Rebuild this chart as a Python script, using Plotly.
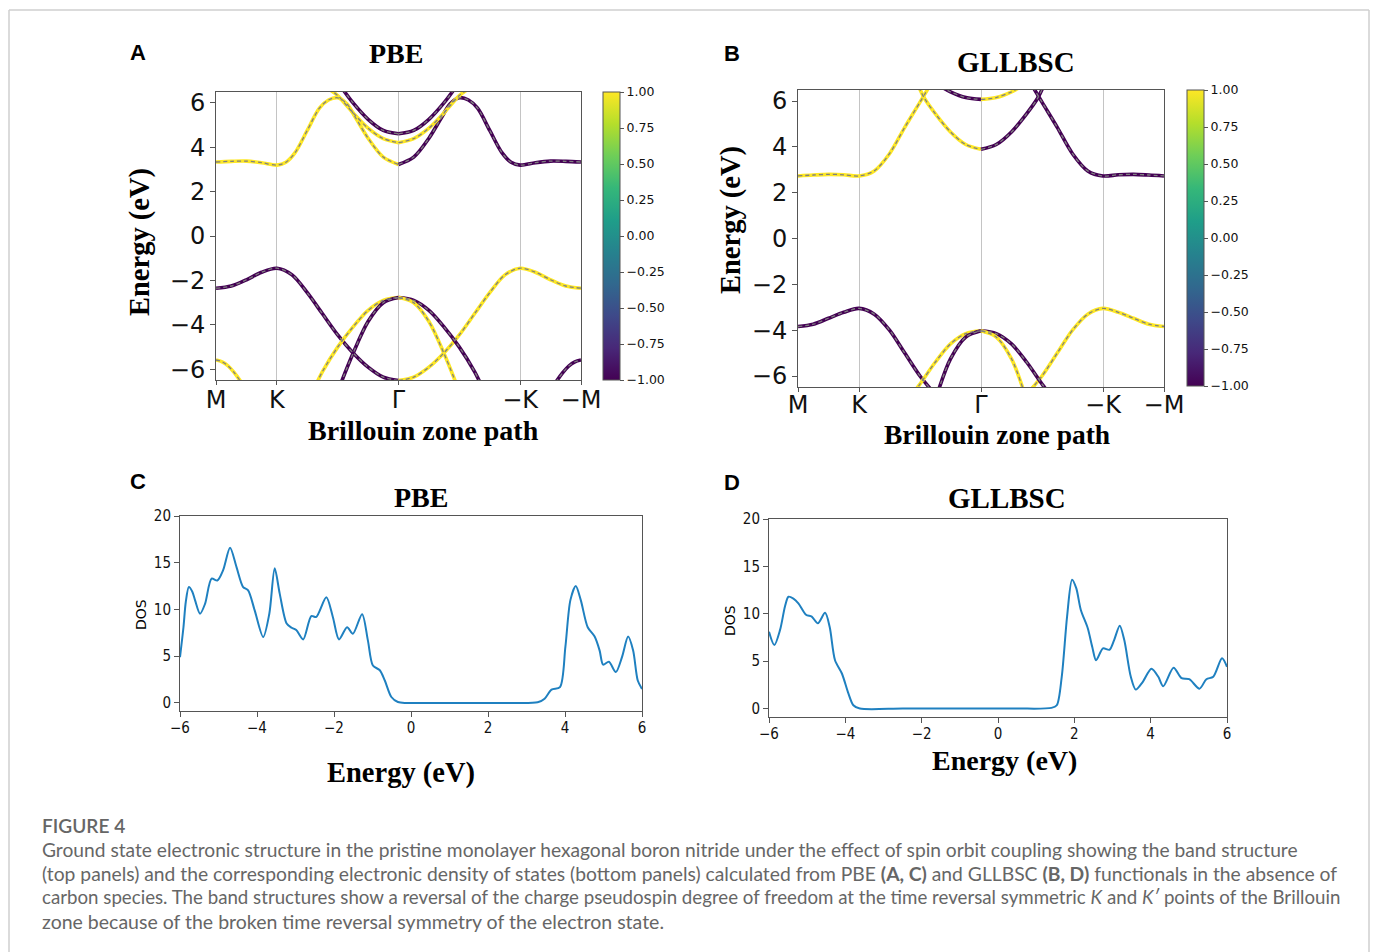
import plotly.graph_objects as go

W, H = 1375, 952


def X(px):
    return px / W


def Y(py):
    return 1 - py / H


# ---------------- data ----------------
PATH_TICK_POS = [0, 1, 3, 5, 6]
PATH_TICK_TEXT = ['M', 'K', 'Γ', '−K', '−M']
BAND_Y_TICKS = [-6, -4, -2, 0, 2, 4, 6]
BAND_Y_TEXT = ['−6', '−4', '−2', '0', '2', '4', '6']
CBAR_TICKS = [-1.0, -0.75, -0.5, -0.25, 0.0, 0.25, 0.5, 0.75, 1.0]
CBAR_TEXT = ['−1.00', '−0.75', '−0.50', '−0.25', '0.00', '0.25', '0.50', '0.75', '1.00']
DOS_X_TICKS = [-6, -4, -2, 0, 2, 4, 6]
DOS_X_TEXT = ['−6', '−4', '−2', '0', '2', '4', '6']
DOS_Y_TICKS = [0, 5, 10, 15, 20]

# PBE band structure (k in units along M-K-Γ-(-K)-(-M), energies in eV)
pbe_c1_k = [0, 0.25, 0.5, 0.75, 1.0, 1.15, 1.3, 1.5, 1.7, 1.85, 2.0, 2.15, 2.3, 2.5, 2.75, 3.0,
            3.25, 3.5, 3.7, 3.85, 4.0, 4.15, 4.3, 4.5, 4.7, 4.85, 5.0, 5.25, 5.5, 5.75, 6.0]
pbe_c1_e = [3.33, 3.36, 3.37, 3.30, 3.19, 3.32, 3.75, 4.75, 5.75, 6.12, 6.22, 5.95, 5.30, 4.40, 3.55, 3.22,
            3.55, 4.40, 5.30, 5.95, 6.22, 6.12, 5.75, 4.75, 3.75, 3.32, 3.19, 3.30, 3.37, 3.36, 3.33]
pbe_c2_k = [1.85, 2.0, 2.25, 2.5, 2.75, 3.0, 3.25, 3.5, 3.75, 4.0, 4.15]
pbe_c2_e = [6.62, 6.32, 5.55, 4.85, 4.38, 4.20, 4.38, 4.85, 5.55, 6.32, 6.62]
pbe_c3_k = [2.08, 2.25, 2.5, 2.75, 3.0, 3.25, 3.5, 3.75, 3.92]
pbe_c3_e = [6.62, 6.00, 5.25, 4.75, 4.60, 4.75, 5.25, 6.00, 6.62]
pbe_v1_k = [0, 0.25, 0.5, 0.75, 1.0, 1.25, 1.5, 1.75, 2.0, 2.25, 2.5, 2.75, 3.0,
            3.25, 3.5, 3.75, 4.0, 4.25, 4.5, 4.75, 5.0, 5.25, 5.5, 5.75, 6.0]
pbe_v1_e = [-2.35, -2.25, -1.97, -1.63, -1.45, -1.75, -2.55, -3.50, -4.45, -5.25, -5.90, -6.35, -6.50,
            -6.35, -5.90, -5.25, -4.45, -3.50, -2.55, -1.75, -1.45, -1.63, -1.97, -2.25, -2.35]
pbe_v2_k = [1.65, 1.75, 2.0, 2.25, 2.5, 2.75, 3.0, 3.25, 3.5, 3.75, 4.0, 4.25, 4.35]
pbe_v2_e = [-6.65, -6.10, -5.00, -4.10, -3.35, -2.90, -2.77, -2.90, -3.35, -4.10, -5.00, -6.10, -6.65]
pbe_v3_k = [2.05, 2.25, 2.5, 2.75, 3.0, 3.25, 3.5, 3.75, 3.95]
pbe_v3_e = [-6.65, -5.30, -3.85, -3.00, -2.77, -3.00, -3.85, -5.30, -6.65]
pbe_v4_k = [0, 0.1, 0.2, 0.3, 0.42, None, 5.58, 5.7, 5.8, 5.9, 6.0]
pbe_v4_e = [-5.58, -5.66, -5.85, -6.15, -6.60, None, -6.60, -6.15, -5.85, -5.66, -5.58]

# GLLBSC band structure
gll_c1_k = [0, 0.25, 0.5, 0.75, 1.0, 1.25, 1.5, 1.75, 2.0, 2.15, None,
            3.85, 4.0, 4.25, 4.5, 4.75, 5.0, 5.25, 5.5, 5.75, 6.0]
gll_c1_e = [2.73, 2.77, 2.80, 2.78, 2.73, 2.95, 3.70, 4.85, 5.95, 6.62, None,
            6.62, 5.95, 4.85, 3.70, 2.95, 2.73, 2.78, 2.80, 2.77, 2.73]
gll_c2_k = [1.98, 2.07, 2.25, 2.5, 2.75, 3.0, 3.25, 3.5, 3.75, 3.93, 4.02]
gll_c2_e = [6.62, 6.13, 5.45, 4.65, 4.10, 3.89, 4.10, 4.65, 5.45, 6.13, 6.62]
gll_c3_k = [2.35, 2.5, 2.75, 3.0, 3.25, 3.5, 3.65]
gll_c3_e = [6.62, 6.40, 6.15, 6.07, 6.15, 6.40, 6.62]
gll_v1_k = [0, 0.25, 0.5, 0.75, 1.0, 1.25, 1.5, 1.75, 2.0, 2.2, None,
            3.8, 4.0, 4.25, 4.5, 4.75, 5.0, 5.25, 5.5, 5.75, 6.0]
gll_v1_e = [-3.84, -3.74, -3.48, -3.22, -3.05, -3.30, -4.00, -5.00, -6.00, -6.65, None,
            -6.65, -6.00, -5.00, -4.00, -3.30, -3.05, -3.22, -3.48, -3.74, -3.84]
gll_v2_k = [1.9, 2.0, 2.25, 2.5, 2.75, 3.0, 3.25, 3.5, 3.75, 4.0, 4.1]
gll_v2_e = [-6.70, -6.35, -5.40, -4.60, -4.15, -4.03, -4.15, -4.60, -5.40, -6.35, -6.70]
gll_v3_k = [2.3, 2.5, 2.75, 3.0, 3.25, 3.5, 3.7]
gll_v3_e = [-6.65, -5.25, -4.30, -4.03, -4.30, -5.25, -6.65]

# spin projection colour of each band: (left of Γ, right of Γ)
pbe_bands = [
    (pbe_c1_k, pbe_c1_e, (1, -1)),
    (pbe_c2_k, pbe_c2_e, (1, 1)),
    (pbe_c3_k, pbe_c3_e, (-1, -1)),
    (pbe_v1_k, pbe_v1_e, (-1, 1)),
    (pbe_v2_k, pbe_v2_e, (1, -1)),
    (pbe_v3_k, pbe_v3_e, (-1, 1)),
    (pbe_v4_k, pbe_v4_e, (1, -1)),
]
gll_bands = [
    (gll_c1_k, gll_c1_e, (1, -1)),
    (gll_c2_k, gll_c2_e, (1, -1)),
    (gll_c3_k, gll_c3_e, (-1, 1)),
    (gll_v1_k, gll_v1_e, (-1, 1)),
    (gll_v2_k, gll_v2_e, (1, -1)),
    (gll_v3_k, gll_v3_e, (-1, 1)),
]

# density of states
pbe_dos_e = [-6.0, -5.91, -5.85, -5.77, -5.68, -5.61, -5.48, -5.35, -5.18, -5.03, -4.88, -4.70, -4.53,
             -4.36, -4.23, -4.06, -3.84, -3.68, -3.54, -3.41, -3.23, -3.10, -2.98, -2.80, -2.59, -2.46,
             -2.20, -2.03, -1.87, -1.66, -1.51, -1.27, -1.12, -0.99, -0.81, -0.68, -0.51, -0.34, -0.12,
             0.5, 1.5, 2.5, 3.29, 3.47, 3.65, 3.87, 4.01, 4.14, 4.28, 4.41, 4.59, 4.77, 4.90, 4.99,
             5.14, 5.32, 5.48, 5.64, 5.77, 5.89, 6.0]
pbe_dos = [4.9, 8.1, 10.8, 12.4, 11.9, 11.0, 9.55, 10.6, 13.3, 13.1, 14.2, 16.6, 14.5,
           12.4, 12.05, 9.9, 7.05, 9.55, 14.4, 11.7, 8.5, 8.05, 7.8, 6.8, 9.3, 9.2,
           11.3, 9.2, 6.8, 8.1, 7.4, 9.5, 6.7, 4.0, 3.5, 2.4, 0.64, 0.1, 0.0,
           0.0, 0.0, 0.0, 0.07, 0.46, 1.43, 1.7, 6.0, 11.0, 12.5, 11.0, 8.1, 7.1, 5.6, 4.1,
           4.4, 3.3, 4.9, 7.1, 5.6, 2.4, 1.5]
gll_dos_e = [-6.0, -5.86, -5.71, -5.58, -5.49, -5.36, -5.23, -5.03, -4.88, -4.72, -4.53, -4.41, -4.27,
             -4.09, -3.92, -3.79, -3.62, -2.5, -1.0, 0.5, 1.40, 1.54, 1.67, 1.81, 1.94, 2.05, 2.17,
             2.35, 2.47, 2.57, 2.75, 2.92, 3.04, 3.19, 3.31, 3.48, 3.61, 3.79, 4.02, 4.20, 4.33,
             4.60, 4.81, 5.01, 5.28, 5.46, 5.64, 5.87, 6.0]
gll_dos = [8.1, 6.7, 8.3, 10.8, 11.8, 11.6, 11.1, 9.9, 9.7, 9.0, 10.1, 8.6, 5.1,
           3.7, 1.6, 0.35, 0.0, 0.0, 0.0, 0.0, 0.07, 0.35, 3.35, 9.7, 13.6, 12.7, 10.4,
           8.5, 6.5, 5.1, 6.35, 6.2, 7.2, 8.75, 7.2, 3.35, 2.0, 2.8, 4.2, 3.35, 2.36,
           4.3, 3.2, 3.1, 2.1, 3.1, 3.35, 5.3, 4.4]

CAPTION_HEAD = 'FIGURE 4'
CAPTION_LINES = [
    'Ground state electronic structure in the pristine monolayer hexagonal boron nitride under the effect of spin orbit coupling showing the band structure',
    '(top panels) and the corresponding electronic density of states (bottom panels) calculated from PBE <b>(A, C)</b> and GLLBSC <b>(B, D)</b> functionals in the absence of',
    'carbon species. The band structures show a reversal of the charge pseudospin degree of freedom at the time reversal symmetric <i>K</i> and <i>K′</i> points of the Brillouin',
    'zone because of the broken time reversal symmetry of the electron state.',
]
CAPTION_SIZES = [19.2, 19.3, 18.7, 19.5]

# ---------------- styles ----------------
YELLOW = '#fde725'
PURPLE = '#440154'
DASH_GRAY = '#808080'
FRAME = '#555555'
DOS_BLUE = '#1f80c0'
SERIF = 'Liberation Serif, Times New Roman, serif'
SANS = 'DejaVu Sans, sans-serif'
COND = 'DejaVu Sans Condensed, DejaVu Sans, sans-serif'

fig = go.Figure()


def split_segments(ks, es):
    """split at None into runs, then split each run at Γ (k=3)."""
    runs, cur = [], []
    for k, e in zip(ks, es):
        if k is None:
            if cur:
                runs.append(cur)
            cur = []
        else:
            cur.append((k, e))
    if cur:
        runs.append(cur)
    left, right = [], []
    for run in runs:
        l = [p for p in run if p[0] <= 3]
        r = [p for p in run if p[0] >= 3]
        if len(l) > 1:
            left.append(l)
        if len(r) > 1:
            right.append(r)
    return left, right


def add_bands(bands, xa, ya):
    overlays = []
    for ks, es, (cl, cr) in bands:
        left, right = split_segments(ks, es)
        for segs, c in ((left, cl), (right, cr)):
            for seg in segs:
                xs = [p[0] for p in seg]
                ys = [p[1] for p in seg]
                fig.add_trace(go.Scatter(
                    x=xs, y=ys, mode='lines', xaxis=xa, yaxis=ya,
                    line=dict(color=YELLOW if c > 0 else PURPLE, width=3.6,
                              shape='spline', smoothing=0.9),
                    hoverinfo='skip', showlegend=False))
                overlays.append((xs, ys))
    for xs, ys in overlays:
        fig.add_trace(go.Scatter(
            x=xs, y=ys, mode='lines', xaxis=xa, yaxis=ya,
            line=dict(color=DASH_GRAY, width=1.3, dash='4px,3px',
                      shape='spline', smoothing=0.9),
            hoverinfo='skip', showlegend=False))


add_bands(pbe_bands, 'x', 'y')
add_bands(gll_bands, 'x2', 'y2')

# dummy traces for colour bars
fig.add_trace(go.Scatter(x=[-10], y=[-10], mode='markers', xaxis='x', yaxis='y',
                         marker=dict(color=[0], coloraxis='coloraxis', opacity=0),
                         hoverinfo='skip', showlegend=False))
fig.add_trace(go.Scatter(x=[-10], y=[-10], mode='markers', xaxis='x2', yaxis='y2',
                         marker=dict(color=[0], coloraxis='coloraxis2', opacity=0),
                         hoverinfo='skip', showlegend=False))

fig.add_trace(go.Scatter(x=pbe_dos_e, y=pbe_dos, mode='lines', xaxis='x3', yaxis='y3',
                         line=dict(color=DOS_BLUE, width=2, shape='spline', smoothing=0.8),
                         hoverinfo='skip', showlegend=False))
fig.add_trace(go.Scatter(x=gll_dos_e, y=gll_dos, mode='lines', xaxis='x4', yaxis='y4',
                         line=dict(color=DOS_BLUE, width=2, shape='spline', smoothing=0.8),
                         hoverinfo='skip', showlegend=False))


def axis_common(size, family=SANS, ticklen=5):
    return dict(showline=True, mirror=True, linecolor=FRAME, linewidth=1,
                ticks='outside', ticklen=ticklen, tickcolor=FRAME, tickwidth=1,
                zeroline=False, fixedrange=True, automargin=False,
                tickfont=dict(family=family, size=size, color='#111'))


def band_x(standoff):
    return dict(range=[0, 6], tickmode='array', tickvals=PATH_TICK_POS, ticktext=PATH_TICK_TEXT,
                showgrid=True, gridcolor='#c4c4c4', gridwidth=1.2, ticklabelstandoff=standoff,
                **axis_common(24, ticklen=4))


band_y = dict(range=[-6.48, 6.48], tickmode='array', tickvals=BAND_Y_TICKS, ticktext=BAND_Y_TEXT,
              showgrid=False, **axis_common(24))
dos_x = dict(range=[-6, 6], tickmode='array', tickvals=DOS_X_TICKS, ticktext=DOS_X_TEXT,
             showgrid=False, ticklabelstandoff=-2, **axis_common(15, COND))
dos_y = dict(tickmode='array', tickvals=DOS_Y_TICKS, showgrid=False, **axis_common(15, COND))


def cbar(x_px, top_px, len_px):
    return dict(colorscale='Viridis', cmin=-1, cmax=1,
                colorbar=dict(x=X(x_px), xanchor='left', y=Y(top_px), yanchor='top',
                              len=len_px, lenmode='pixels', thickness=17, thicknessmode='pixels',
                              xpad=0, ypad=0, outlinewidth=1, outlinecolor=FRAME,
                              ticks='outside', ticklen=4, tickcolor=FRAME,
                              tickmode='array', tickvals=CBAR_TICKS, ticktext=CBAR_TEXT,
                              tickfont=dict(family=SANS, size=12.5, color='#111')))


annotations = []


def text(x_px, y_px, s, size, family=SERIF, bold=True, angle=0, color='#000', xanchor='center'):
    annotations.append(dict(x=X(x_px), y=Y(y_px), xref='paper', yref='paper', text=s,
                            showarrow=False, textangle=angle, xanchor=xanchor, yanchor='middle',
                            font=dict(family=family, size=size, color=color,
                                      weight='bold' if bold else 'normal')))


LETTER_FONT = 'Liberation Sans, Arial, sans-serif'
text(138, 52, 'A', 22, LETTER_FONT)
text(732, 53, 'B', 22, LETTER_FONT)
text(138, 481, 'C', 22, LETTER_FONT)
text(732, 482, 'D', 22, LETTER_FONT)

text(396, 53, 'PBE', 28)
text(1016, 62, 'GLLBSC', 29)
text(421, 497, 'PBE', 28)
text(1007, 498, 'GLLBSC', 29)

text(140, 242, 'Energy (eV)', 28.5, angle=-90)
text(731, 220, 'Energy (eV)', 28.5, angle=-90)
text(424, 431, 'Brillouin zone path', 28)
text(997, 435, 'Brillouin zone path', 27.5)
text(401, 773, 'Energy (eV)', 28.5)
text(1004, 760, 'Energy (eV)', 28)
text(141, 615, 'DOS', 14, SANS, bold=False, angle=-90)
text(730, 621, 'DOS', 14, SANS, bold=False, angle=-90)

CAP_FONT = 'Lato, Open Sans, sans-serif'
CAP_COLOR = '#666666'
annotations.append(dict(x=X(40), y=Y(825), xref='paper', yref='paper', text=CAPTION_HEAD,
                        showarrow=False, xanchor='left', yanchor='middle',
                        font=dict(family=CAP_FONT, size=19.1, color=CAP_COLOR, weight=600)))
for i, line in enumerate(CAPTION_LINES):
    annotations.append(dict(x=X(40), y=Y(849 + 24 * i), xref='paper', yref='paper', text=line,
                            showarrow=False, xanchor='left', yanchor='middle',
                            font=dict(family=CAP_FONT, size=CAPTION_SIZES[i], color=CAP_COLOR)))

shapes = [
    dict(type='line', xref='paper', yref='paper', x0=X(9), x1=X(1369), y0=Y(10), y1=Y(10),
         line=dict(color='#cfcfcf', width=1.5)),
    dict(type='line', xref='paper', yref='paper', x0=X(9), x1=X(9), y0=Y(10), y1=0,
         line=dict(color='#cfcfcf', width=1.5)),
    dict(type='line', xref='paper', yref='paper', x0=X(1369), x1=X(1369), y0=Y(10), y1=0,
         line=dict(color='#cfcfcf', width=1.5)),
]

fig.update_layout(
    width=W, height=H, margin=dict(l=0, r=0, t=0, b=0, pad=0, autoexpand=False),
    paper_bgcolor='white', plot_bgcolor='white', showlegend=False,
    xaxis=dict(domain=[X(216), X(581)], anchor='y', **band_x(-6)),
    yaxis=dict(domain=[Y(380), Y(92)], anchor='x', **band_y),
    xaxis2=dict(domain=[X(798), X(1164)], anchor='y2', **band_x(-8)),
    yaxis2=dict(domain=[Y(387), Y(90)], anchor='x2', **band_y),
    xaxis3=dict(domain=[X(180), X(642)], anchor='y3', **dos_x),
    yaxis3=dict(domain=[Y(711), Y(516)], anchor='x3', range=[-0.86, 20], **dos_y),
    xaxis4=dict(domain=[X(769), X(1227)], anchor='y4', **dos_x),
    yaxis4=dict(domain=[Y(717), Y(519)], anchor='x4', range=[-0.89, 20], **dos_y),
    coloraxis=cbar(603, 92, 288),
    coloraxis2=cbar(1187, 90, 296),
    annotations=annotations,
    shapes=shapes,
)

# remove default page margins so the 1375x952 figure fills the window exactly
POST_JS = ("document.body.style.margin='0';document.body.style.padding='0';"
           "document.documentElement.style.overflow='hidden';")
fig.write_html('out.html', config={'displayModeBar': False}, post_script=POST_JS)
